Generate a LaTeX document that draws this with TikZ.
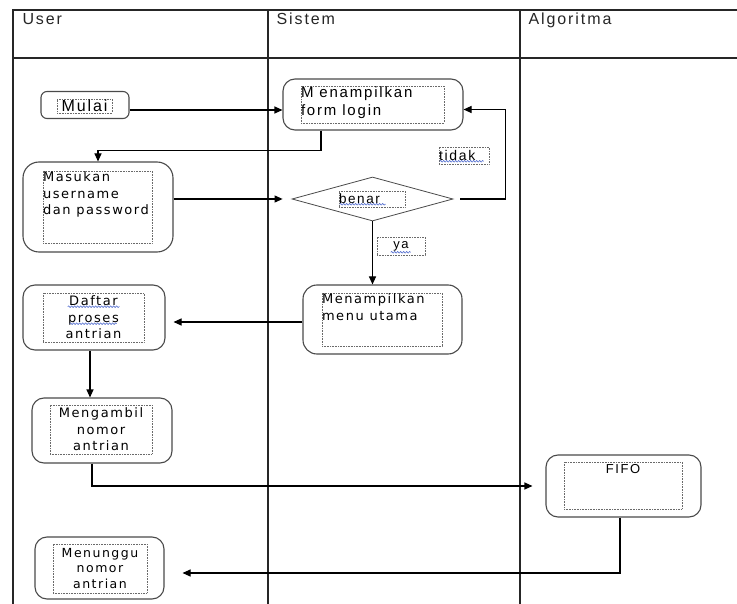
\documentclass[tikz,border=0pt]{standalone}
\usepackage{fontspec}
\setmainfont{Liberation Sans}
\newfontfamily\trk[LetterSpace=12]{Liberation Sans}
\newfontfamily\dvs[LetterSpace=12]{DejaVu Sans}
\usetikzlibrary{arrows.meta,shapes.geometric,decorations.pathmorphing}
\definecolor{boxgray}{HTML}{4A4A4A}
\definecolor{dotgray}{HTML}{6A6A6A}
\definecolor{wavyblue}{HTML}{5570D0}
\tikzset{
  procbox/.style={draw=boxgray, line width=1.1pt, rounded corners=12pt, inner sep=0pt, fill=white},
  innerbox/.style={draw=dotgray, densely dotted, line width=0.6pt, inner sep=0pt},
  conn/.style={draw=black, line width=1.1pt, -{Triangle[length=8pt,width=7pt]}},
  lane/.style={draw=black!85, line width=1.1pt},
  hdr/.style={anchor=base west, font=\trk\fontsize{16}{18}\selectfont, text=black!85},
  wavy/.style={draw=wavyblue, line width=0.6pt, decorate, decoration={snake, amplitude=0.8pt, segment length=3pt}}
}
\begin{document}
\begin{tikzpicture}[x=1pt,y=-1pt]
\useasboundingbox[fill=white] (0,0) rectangle (737,604);
% lanes
\draw[lane] (13,604) -- (13,10) -- (737,10);
\draw[lane] (13,58) -- (737,58);
\draw[lane] (268,10) -- (268,604);
\draw[lane] (520,10) -- (520,604);
\node[hdr] (hUser) at (19,25) {User};
\node[hdr] (hSistem) at (273,25) {Sistem};
\node[hdr] (hAlgo) at (525,25) {Algoritma};

% Mulai
\node[procbox, rounded corners=6pt, minimum width=88pt, minimum height=27pt] (mulai) at (85,105) {};
\node[innerbox, minimum width=55pt, minimum height=14pt, font=\trk\fontsize{16}{16}\selectfont] (mulaiT) at (84.5,106) {Mulai};

% Menampilkan form login
\node[procbox, minimum width=180pt, minimum height=51pt] (login) at (373,104.5) {};
\node[innerbox] (loginT) at (372.5,104.5) {\parbox[c][37pt][t]{143pt}{\trk\fontsize{15}{17.5}\selectfont\raggedright\vspace{1pt}M enampilkan\\form login}};

% Masukan
\node[procbox, rounded corners=16pt, minimum width=150pt, minimum height=90pt] (masukan) at (98,207) {};
\node[innerbox] (masukanT) at (97.5,207) {\parbox[c][72pt][t]{109pt}{\dvs\fontsize{13}{16.5}\selectfont\raggedright\vspace{1pt}Masukan\\username\\dan password}};

% diamond
\node[draw=boxgray, line width=0.8pt, diamond, minimum width=161pt, minimum height=44pt, inner sep=0pt] (benar) at (372.5,199) {};
\node[innerbox] (benarT) at (372,199) {\parbox[c][16pt][c]{66pt}{\trk\fontsize{13.5}{15}\selectfont\raggedright benar}};

% labels
\node[innerbox] (tidakT) at (464,155.5) {\parbox[c][17pt][c]{50pt}{\trk\fontsize{14}{14}\selectfont\raggedright tidak}};
\node[innerbox] (yaT) at (401,246) {\parbox[c][18pt][c]{48pt}{\trk\fontsize{13}{14}\selectfont\centering ya}};

% Menampilkan menu utama
\node[procbox, rounded corners=14pt, minimum width=159pt, minimum height=69pt] (menu) at (382.5,319.5) {};
\node[innerbox] (menuT) at (382,319.5) {\parbox[c][53pt][t]{120pt}{\dvs\fontsize{13}{17}\selectfont\raggedright\vspace{1pt}Menampilkan\\menu utama}};

% Daftar proses antrian
\node[procbox, minimum width=142pt, minimum height=65pt] (daftar) at (94,317.5) {};
\node[innerbox] (daftarT) at (93.5,317.5) {\parbox[c][49pt][c]{101pt}{\dvs\fontsize{13}{16.5}\selectfont\centering Daftar\\proses\\antrian}};

% Mengambil nomor antrian
\node[procbox, minimum width=140pt, minimum height=65pt] (ambil) at (102,430.5) {};
\node[innerbox] (ambilT) at (101,429.5) {\parbox[c][49pt][c]{102pt}{\dvs\fontsize{13}{16.5}\selectfont\centering Mengambil\\nomor\\antrian}};

% FIFO
\node[procbox, minimum width=155pt, minimum height=62pt] (fifo) at (623.5,486) {};
\node[innerbox] (fifoT) at (623,485.5) {\parbox[c][47pt][t]{118pt}{\trk\fontsize{13}{14}\selectfont\centering\vspace{2pt}FIFO}};

% Menunggu nomor antrian
\node[procbox, minimum width=129pt, minimum height=62pt] (tunggu) at (99.5,568) {};
\node[innerbox] (tungguT) at (100,568.5) {\parbox[c][49pt][c]{94pt}{\dvs\fontsize{12.5}{15.5}\selectfont\centering Menunggu\\nomor\\antrian}};

% connectors
\draw[conn] ([yshift=-5pt]mulai.east) -- ([yshift=-5pt]mulai.east -| login.west);
\draw[conn] ([xshift=-52pt]login.south) -- ++(0,20) -| (masukan.north);
\draw[conn, shorten >=9pt] (masukan.east |- benar.west) -- (benar.west);
\draw[conn, shorten <=7pt] (benar.east) -- ++(52,0) |- ([yshift=-5pt]login.east);
\draw[conn] (benar.south) -- (benar.south |- menu.north);
\draw[conn, shorten >=8pt] ([yshift=-2.5pt]menu.west) -- ([yshift=-2.5pt]menu.west -| daftar.east);
\draw[conn] ([xshift=-4pt]daftar.south) -- ([xshift=-4pt]daftar.south |- ambil.north);
\draw[conn, shorten >=13pt] ([xshift=-10pt]ambil.south) |- (fifo.west);
\draw[conn, shorten >=18pt] ([xshift=-3.5pt]fifo.south) |- ([yshift=-5pt]tunggu.east);

% spell-check underlines
\draw[wavy] ([xshift=1pt,yshift=3pt]benarT.south west) -- ++(46,0);
\draw[wavy] ([xshift=1pt,yshift=3pt]tidakT.south west) -- ++(44,0);
\draw[wavy] ([xshift=14pt,yshift=3pt]yaT.south west) -- ++(20,0);
\draw[wavy] ([xshift=25pt,yshift=-14pt]daftarT.north west) -- ++(52,0);
\draw[wavy] ([xshift=27pt,yshift=-31pt]daftarT.north west) -- ++(47,0);
\end{tikzpicture}
\end{document}
